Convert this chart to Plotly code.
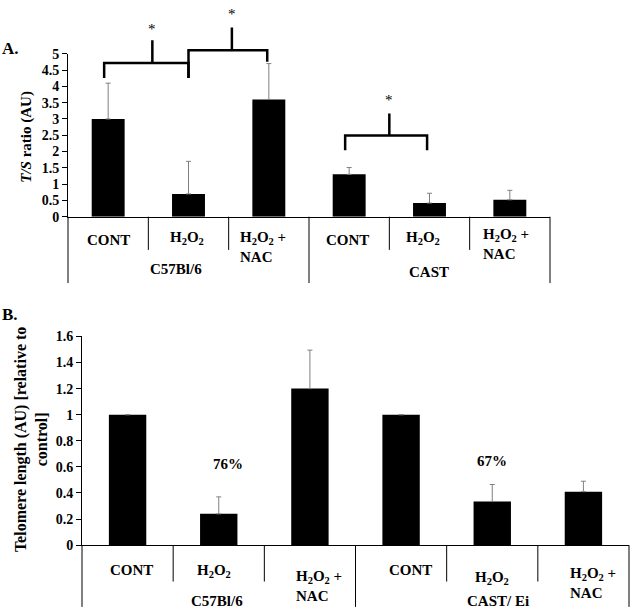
import plotly.graph_objects as go

# ---------------- data ----------------
treatments = ["CONT", "H<sub>2</sub>O<sub>2</sub>", "H<sub>2</sub>O<sub>2</sub> +<br>NAC"]
strains_a = ["C57Bl/6", "CAST"]
strains_b = ["C57Bl/6", "CAST/ Ei"]

ts_ratio = [3.0, 0.7, 3.6, 1.3, 0.42, 0.52]
ts_err = [1.1, 1.0, 1.1, 0.21, 0.3, 0.29]

telo_len = [1.0, 0.24, 1.2, 1.0, 0.335, 0.41]
telo_err = [None, 0.13, 0.295, None, 0.13, 0.08]

pct_text = ["76%", "67%"]
pct_pos = [1.1, 4.0]
pct_y = [0.625, 0.645]

# significance brackets (panel A): x-left, x-right, bar height, left leg end, right leg end, stem x, stem top, star y
brackets = [
    (-0.05, 1.0, 4.72, 4.26, 4.26, 0.55, 5.42, 5.75),
    (1.0, 1.98, 5.11, 4.26, 4.76, 1.54, 5.81, 6.23),
    (2.95, 3.97, 2.49, 2.04, 2.04, 3.50, 3.17, 3.59),
]

ymax_a = 5.0
ymax_b = 1.6

FONT = "Liberation Serif"
W, H = 640, 611


def py(px):
    return 1 - px / H


x_idx = list(range(6))
labels6 = treatments * 2

fig = go.Figure()

fig.add_trace(go.Bar(
    x=x_idx, y=ts_ratio, marker=dict(color="black", line=dict(width=0)),
    error_y=dict(type="data", symmetric=False, array=ts_err,
                 arrayminus=[0 if e is not None else None for e in ts_err],
                 color="#808080", thickness=1, width=2.5),
    xaxis="x", yaxis="y", showlegend=False, hoverinfo="skip"))

fig.add_trace(go.Bar(
    x=x_idx, y=telo_len, marker=dict(color="black", line=dict(width=0)),
    error_y=dict(type="data", symmetric=False, array=telo_err,
                 arrayminus=[0 if e is not None else None for e in telo_err],
                 color="#808080", thickness=1, width=2.5),
    xaxis="x2", yaxis="y2", showlegend=False, hoverinfo="skip"))

axis_common = dict(showgrid=False, zeroline=False, showline=True,
                   linecolor="black", linewidth=1)
tick_font = dict(family=FONT, size=14, weight="bold", color="black")

fig.update_layout(
    width=W, height=H, margin=dict(l=0, r=0, t=0, b=0),
    paper_bgcolor="white", plot_bgcolor="white",
    bargap=0.59,
    font=dict(family=FONT, color="black"),
    xaxis=dict(domain=[68 / W, 550 / W], range=[-0.5, 5.5], showticklabels=False,
               ticks="", anchor="y", **axis_common),
    yaxis=dict(domain=[py(215), py(48)], range=[0, ymax_a], dtick=0.5, ticks="outside",
               ticklen=5, tickcolor="black", anchor="x", tickfont=tick_font,
               **axis_common),
    xaxis2=dict(domain=[82 / W, 629 / W], range=[-0.5, 5.5], showticklabels=False,
                ticks="", anchor="y2", **axis_common),
    yaxis2=dict(domain=[py(551.7), py(337.7)], range=[0, ymax_b], dtick=0.2, ticks="outside",
                ticklen=5, tickcolor="black", anchor="x2", tickfont=tick_font,
                **axis_common),
)

shapes = []
annotations = []

# ---- category dividers ----
def dividers(xr, xdr, y_top_px, short_px, long_px):
    out = []
    for b in [0.5, 1.5, 3.5, 4.5]:
        out.append(dict(type="line", xref=xr, yref="paper", x0=b, x1=b,
                        y0=py(y_top_px), y1=py(short_px), line=dict(color="black", width=1)))
    out.append(dict(type="line", xref=xr, yref="paper", x0=2.5, x1=2.5,
                    y0=py(y_top_px), y1=py(long_px), line=dict(color="black", width=1)))
    for d in [0, 1]:
        out.append(dict(type="line", xref=xdr, yref="paper", x0=d, x1=d,
                        y0=py(y_top_px), y1=py(long_px), line=dict(color="black", width=1)))
    return out

shapes += dividers("x", "x domain", 215, 249, 283)
shapes += dividers("x2", "x2 domain", 551.7, 589, 615)

# ---- brackets ----
for (xa, xb, yb, yl, yr, xs, ys, yst) in brackets:
    path = (f"M {xa},{yl / ymax_a} L {xa},{yb / ymax_a} L {xb},{yb / ymax_a} L {xb},{yr / ymax_a} "
            f"M {xs},{yb / ymax_a} L {xs},{ys / ymax_a}")
    shapes.append(dict(type="path", xref="x", yref="y domain", path=path,
                       line=dict(color="black", width=2.5)))
    annotations.append(dict(x=xs, y=yst / ymax_a, xref="x", yref="y domain", text="*",
                            showarrow=False, font=dict(family=FONT, size=15, color="black"),
                            xanchor="center", yanchor="middle"))

lab_font = dict(family=FONT, size=15, weight="bold", color="black")

# ---- panel A category labels ----
a_lab_x = [0.0, 0.98, 1.93, 2.98, 3.92, 4.95]
a_lab_y = [239, 237, 246, 239, 237, 243]
for i in range(6):
    annotations.append(dict(x=a_lab_x[i], y=py(a_lab_y[i]), xref="x", yref="paper",
                            text=labels6[i], showarrow=False, font=lab_font, align="left",
                            xanchor="center", yanchor="middle"))
a_grp_x = [0.84, 3.99]
a_grp_y = [269, 272]
for g in range(2):
    annotations.append(dict(x=a_grp_x[g], y=py(a_grp_y[g]), xref="x", yref="paper",
                            text=strains_a[g], showarrow=False, font=lab_font,
                            xanchor="center", yanchor="middle"))

# ---- panel B category labels ----
b_lab_x = [0.045, 0.95, 2.1, 3.1, 4.0, 5.11]
b_lab_y = [577.5, 578, 594, 577, 585, 590]
for i in range(6):
    annotations.append(dict(x=b_lab_x[i], y=py(b_lab_y[i]), xref="x2", yref="paper",
                            text=labels6[i], showarrow=False, font=lab_font, align="left",
                            xanchor="center", yanchor="middle"))
b_grp_x = [0.98, 4.06]
for g in range(2):
    annotations.append(dict(x=b_grp_x[g], y=py(609), xref="x2", yref="paper",
                            text=strains_b[g], showarrow=False, font=lab_font,
                            xanchor="center", yanchor="middle"))

# ---- percentage labels ----
for t, xp, yp in zip(pct_text, pct_pos, pct_y):
    annotations.append(dict(x=xp, y=yp, xref="x2", yref="y2", text=t, showarrow=False,
                            font=lab_font, xanchor="center", yanchor="middle"))

# ---- axis titles ----
annotations.append(dict(x=27 / W, y=py(133), xref="paper", yref="paper",
                        text="<i>T/S</i> ratio (AU)", textangle=-90, showarrow=False,
                        font=lab_font, xanchor="center", yanchor="middle"))
annotations.append(dict(x=31 / W, y=py(444), xref="paper", yref="paper",
                        text="Telomere length (AU) [relative to<br>control]", textangle=-90,
                        showarrow=False, font=dict(family=FONT, size=16, weight="bold", color="black"),
                        xanchor="center", yanchor="middle"))

# ---- panel letters ----
annotations.append(dict(x=0, y=py(43), xref="paper", yref="paper", text="A.", showarrow=False,
                        font=dict(family=FONT, size=17, weight="bold", color="black"),
                        xanchor="left", yanchor="middle"))
annotations.append(dict(x=0, y=py(315), xref="paper", yref="paper", text="B.", showarrow=False,
                        font=dict(family=FONT, size=17, weight="bold", color="black"),
                        xanchor="left", yanchor="middle"))

fig.update_layout(shapes=shapes, annotations=annotations)

fig.write_html("out.html", config={"displayModeBar": False},
               post_script="document.body.style.margin='0';")
